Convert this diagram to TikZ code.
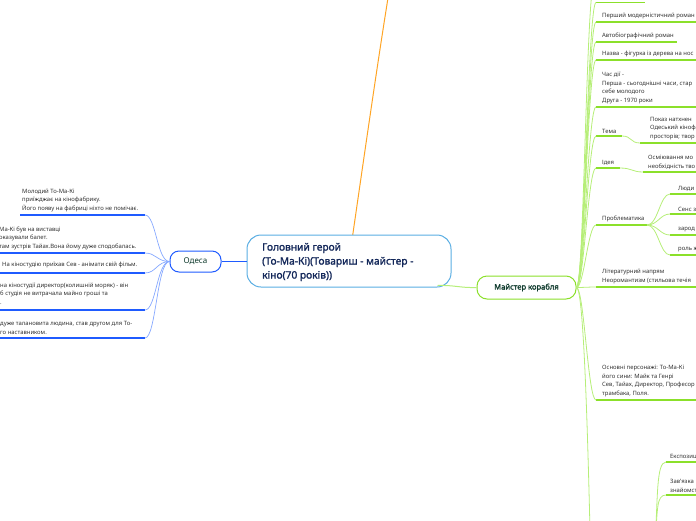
\documentclass[tikz,border=0pt]{standalone}
\usepackage{fontspec}
\setmainfont{Noto Sans}
\newfontfamily\semib{Noto Sans}[FakeBold=1.6]
\definecolor{bl}{HTML}{1F5BFF}
\definecolor{blc}{HTML}{86A8FF}
\definecolor{gr}{HTML}{8BE02A}
\definecolor{grc}{HTML}{B6EE78}
\definecolor{org}{HTML}{FFA424}
\definecolor{cbord}{HTML}{5AAEE3}
\definecolor{navy}{HTML}{14285A}
\definecolor{dkg}{HTML}{0E3A2C}
\begin{document}
\begin{tikzpicture}[x=1pt,y=-1pt,
  small/.style={font=\fontsize{5.9}{8.8}\selectfont, text=black!80, align=left, inner sep=0pt, anchor=south west},
  bul/.style={draw=bl, line width=1.8pt},
  bc/.style={draw=blc, line width=0.7pt},
  gul/.style={draw=gr, line width=1.8pt},
  gc/.style={draw=grc, line width=0.8pt},
]
\useasboundingbox (0,0) rectangle (696,520);
\clip (0,0) rectangle (696,520);
% orange connector
\coordinate (otop) at (388,-2);
\draw[org, line width=1pt] (352,240) .. controls (365,150) and (378,60) .. (otop);
% central topic
\node[draw=cbord, line width=1pt, rounded corners=14pt, fill=white, minimum width=204pt, minimum height=52pt] (main) at (349,261) {};
\node[anchor=west, font=\semib\fontsize{10.2}{14}\selectfont, align=left, text=navy, inner sep=0pt] (maintext) at (262,262) {Головний герой\\(То-Ма-Кі)(Товариш - майстер -\\кіно(70 років))};
% Odesa
\node[draw=bl, line width=1pt, rounded corners=9pt, minimum width=51pt, minimum height=21pt, font=\fontsize{8}{10}\selectfont, text=dkg, fill=white] (odesa) at (195.5,261.5) {Одеса};
\draw[bl, line width=1pt] (odesa.east) -- (main.west |- odesa.east);
% left items
\foreach \n/\y/\xa in {1/215/20, 2/253/0, 3/273/0, 4/310/0, 5/338/0}{
  \coordinate (la\n) at (\xa,\y);
  \coordinate (lb\n) at (145,\y);
  \draw[bul] (la\n) -- (lb\n);
  \draw[bc] (odesa.west) .. controls (157,261.5) and (156,\y) .. (lb\n);
}
\node[small] (t1) at (22,212.3) {Молодий То-Ма-Кі\\приїжджає на кінофабрику.\\Його появу на фабриці ніхто не помічає.};
\node[small] (t2) at (-1,250.3) {Ма-Кі був на виставці\\оказували балет.\\там зустрів Тайах.Вона йому дуже сподобалась.};
\node[small] (t3) at (2,268.5) {На кіностудію приїхав Сев - анімати свій фільм.};
\node[small] (t4) at (0,305) {на кіностудії директор(колишній моряк) - він\\б студія не витрачала майно гроші та\\.};
\node[small] (t5) at (0,335) {дуже талановита людина, став другом для То-\\го наставником.};
% Master
\node[draw=gr, line width=1pt, rounded corners=10pt, minimum width=99pt, minimum height=23pt, font=\semib\fontsize{7.6}{9}\selectfont, text=dkg, fill=white] (master) at (526.5,287.5) {Майстер корабля};
\draw[gc, line width=1pt] (main.south east) ++(-14,-2) coordinate (mse) .. controls (455,285) and (460,288) .. (master.west);
% right items
\foreach \n/\y/\xb in {0/2.5/645, 1/22/696, 2/42/677, 3/60/696, 4/107/696, 5/136/622, 6/168/620, 7/225/647, 8/287/696, 9/400/696}{
  \coordinate (ra\n) at (596,\y);
  \coordinate (rb\n) at (\xb,\y);
  \draw[gul] (ra\n) -- (rb\n);
  \draw[gc] (master.east) .. controls (584,287.5) and (588,\y) .. (ra\n);
}
\coordinate (rtop) at (594,-20);
\draw[gc] (master.east) .. controls (584,287.5) and (586,0) .. (rtop);
\coordinate (rbot) at (590,530);
\draw[gc] (master.east) .. controls (584,287.5) and (588,450) .. (rbot);
\node[small] at (602,19.3) {Перший модерністичний роман};
\node[small] at (602,39.3) {Автобіографічний роман};
\node[small] at (602,57.3) {Назва - фігурка із дерева на нос};
\node[small] at (602,104.3) {Час дії -\\Перша - сьогоднішні часи, стар\\себе молодого\\Друга - 1970 роки};
\node[small] at (602,133.3) {Тема};
\node[small] at (602,165.3) {Ідея};
\node[small] at (602,222.3) {Проблематика};
\node[small] at (602,284.3) {Літературний напрям\\Неоромантизм (стильова течія};
\node[small] at (602,397.3) {Основні персонажі: То-Ма-Кі\\його сини: Майк та Генрі\\Сев, Тайах, Директор, Професор\\трамбака, Поля.};
% Tema child
\coordinate (c5a) at (640,143); \coordinate (c5b) at (696,143);
\draw[gul] (c5a) -- (c5b);
\draw[gc] (rb5) .. controls (632,136) and (630,143) .. (c5a);
\node[small] at (650,140.3) {Показ натхнен\\Одеський кінофа\\просторів; твор};
% Ideya child
\coordinate (c6a) at (643,172); \coordinate (c6b) at (696,172);
\draw[gul] (c6a) -- (c6b);
\draw[gc] (rb6) .. controls (632,168) and (632,172) .. (c6a);
\node[small] at (648,169.3) {Осміювання мо\\необхідність тво};
% Problematyka children
\foreach \n/\y/\t in {1/194/Люди, 2/214/Сенс з, 3/235/зарод, 4/255/роль ж}{
  \coordinate (p\n) at (670,\y);
  \draw[gul] (p\n) -- (696,\y);
  \draw[gc] (rb7) .. controls (658,225) and (660,\y) .. (p\n);
  \node[small] at (678,\y-2.7) {\t};
}
% bottom children
\coordinate (kb) at (655,540);
\coordinate (e1) at (666,462); \coordinate (e2) at (666,495);
\draw[gul] (e1) -- (696,462);
\draw[gul] (e2) -- (696,495);
\draw[gc] (kb) .. controls (658,500) and (656,462) .. (e1);
\draw[gc] (kb) .. controls (658,510) and (656,495) .. (e2);
\node[small] at (670,459.3) {Експозиці};
\node[small] at (670,492.3) {Зав'язка\\знайомст};
\end{tikzpicture}
\end{document}
